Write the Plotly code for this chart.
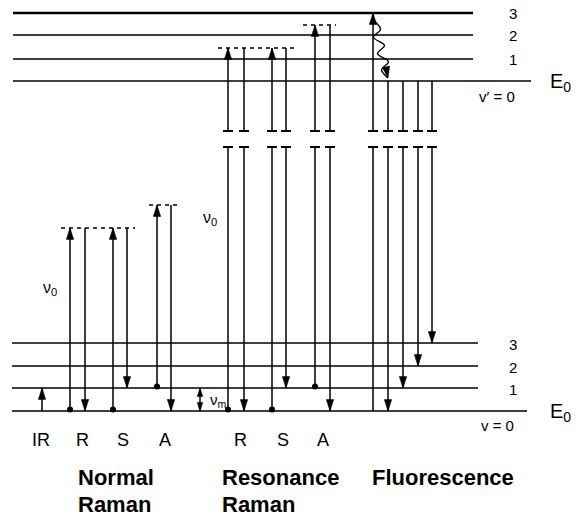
import plotly.graph_objects as go

# ---------------- data ----------------
# energy scale: ground-state v=0 at 0 (arbitrary units)
ground_labels = ["1", "2", "3"]
ground_E = [0, 23, 45, 68]
ground_x_end = [527, 478, 478, 478]
excited_labels = ["1", "2", "3"]
excited_E = [330, 352, 376, 398]
excited_x_end = [531, 473, 473, 473]
level_x_start = [12, 12, 12, 12]

# virtual levels (dashed)
virtual_E = [183, 206, 363, 386]
virtual_x0 = [61, 149, 218, 303]
virtual_x1 = [135, 179, 296, 336]

# transitions: column x, start energy, end energy, broken axis
trans_x = [42, 70, 85, 113, 127, 157, 171,
           228, 244, 272, 286, 315, 330,
           373, 388, 403, 418, 432]
trans_from = [0, 0, 183, 0, 183, 23, 206,
              0, 363, 0, 363, 23, 386,
              0, 330, 330, 330, 330]
trans_to = [23, 183, 0, 183, 23, 206, 0,
            363, 0, 363, 23, 386, 0,
            398, 0, 23, 45, 68]
trans_broken = [False] * 7 + [True] * 11
break_lo, break_hi = 264, 280

# population dots at start of absorption arrows
dot_x = [70, 113, 157, 228, 272, 315]
dot_E = [0, 0, 23, 0, 0, 23]

# vibrational relaxation (wavy) start/end
wavy_start = (374, 390)
wavy_end = (388, 333)

# nu_m marker column
num_x = 200

# transition labels
trans_labels = ["IR", "R", "S", "A", "R", "S", "A"]
trans_label_x = [41, 82, 123, 165, 240, 283, 323]
group_line1 = ["Normal", "Resonance", "Fluorescence"]
group_line2 = ["Raman", "Raman", ""]
group_x = [77, 221, 371]

# ---------------- figure ----------------
fig = go.Figure()
BLACK = "#000000"

# energy levels
for i, E in enumerate(ground_E):
    fig.add_trace(go.Scatter(x=[level_x_start[i], ground_x_end[i]], y=[E, E], mode="lines",
                             line=dict(color=BLACK, width=1.6), hoverinfo="skip", showlegend=False))
for i, E in enumerate(excited_E):
    fig.add_trace(go.Scatter(x=[level_x_start[i] + 1, excited_x_end[i]], y=[E, E], mode="lines",
                             line=dict(color=BLACK, width=2.4 if i == 3 else 1.6),
                             hoverinfo="skip", showlegend=False))

# virtual levels
for E, a, b in zip(virtual_E, virtual_x0, virtual_x1):
    fig.add_trace(go.Scatter(x=[a, b], y=[E, E], mode="lines",
                             line=dict(color=BLACK, width=1.4, dash="4px,4px"),
                             hoverinfo="skip", showlegend=False))

# transition lines
xs, ys = [], []
cx, cy = [], []
for x, e0, e1, br in zip(trans_x, trans_from, trans_to, trans_broken):
    lo, hi = min(e0, e1), max(e0, e1)
    if br and lo < break_lo and hi > break_hi:
        xs += [x, x, None, x, x, None]
        ys += [lo, break_lo, None, break_hi, hi, None]
        for yb in (break_lo, break_hi):
            cx += [x - 5, x + 5, None]
            cy += [yb, yb, None]
    else:
        xs += [x, x, None]
        ys += [lo, hi, None]
# nu_m double-headed marker line
xs += [num_x, num_x, None]
ys += [ground_E[0], ground_E[1], None]
fig.add_trace(go.Scatter(x=xs, y=ys, mode="lines", line=dict(color=BLACK, width=1.5),
                         hoverinfo="skip", showlegend=False))
fig.add_trace(go.Scatter(x=cx, y=cy, mode="lines", line=dict(color=BLACK, width=2),
                         hoverinfo="skip", showlegend=False))

# wavy relaxation line
n = 7
wx, wy = [], []
for k in range(n + 1):
    t = k / n
    off = 0 if k in (0, n) else (4.5 if k % 2 else -4.5)
    wx.append(wavy_start[0] + (wavy_end[0] - wavy_start[0]) * t + off)
    wy.append(wavy_start[1] + (wavy_end[1] - wavy_start[1]) * t)
fig.add_trace(go.Scatter(x=wx, y=wy, mode="lines", line=dict(color=BLACK, width=1.4, shape="spline"),
                         hoverinfo="skip", showlegend=False))

# arrowheads (tip of 'arrow' symbol sits on the point)
hx = list(trans_x) + [wavy_end[0]]
hy = list(trans_to) + [wavy_end[1]]
ha = [0 if e1 > e0 else 180 for e0, e1 in zip(trans_from, trans_to)] + [170]
fig.add_trace(go.Scatter(x=hx, y=hy, mode="markers",
                         marker=dict(symbol="arrow", size=12, angle=ha, color=BLACK,
                                     line=dict(width=0.5, color=BLACK)),
                         hoverinfo="skip", showlegend=False))
fig.add_trace(go.Scatter(x=[num_x, num_x], y=[ground_E[1], ground_E[0]], mode="markers",
                         marker=dict(symbol="arrow", size=9, angle=[0, 180], color=BLACK,
                                     line=dict(width=0.5, color=BLACK)),
                         hoverinfo="skip", showlegend=False))

# dots
fig.add_trace(go.Scatter(x=dot_x, y=[e + 1.5 for e in dot_E], mode="markers",
                         marker=dict(color=BLACK, size=6, symbol="circle"),
                         hoverinfo="skip", showlegend=False))

FONT = "Liberation Sans, Arial, sans-serif"

def txt(x, y, s, size, bold=False, xanchor="center"):
    fig.add_annotation(x=x, y=y, xref="x", yref="y", text=f"<b>{s}</b>" if bold else s,
                       showarrow=False, xanchor=xanchor, yanchor="middle", borderpad=0,
                       font=dict(family=FONT, size=size, color=BLACK))

# right-side level labels
for lab, E in zip(excited_labels, excited_E[1:]):
    txt(513, E, lab, 15)
for lab, E in zip(ground_labels, ground_E[1:]):
    txt(513, E - 1, lab, 15)
txt(497, excited_E[0] - 15, "v′ = 0", 15)
txt(497, ground_E[0] - 14, "v = 0", 15)
txt(560, excited_E[0] - 1, "E<sub>0</sub>", 20)
txt(560, ground_E[0] - 1, "E<sub>0</sub>", 20)

# nu labels
txt(50, 123, "ν<sub>0</sub>", 16)
txt(210, 193, "ν<sub>0</sub>", 16)
txt(218, 11, "ν<sub>m</sub>", 15)

# transition labels
for lab, x in zip(trans_labels, trans_label_x):
    txt(x, -29, lab, 18)

# group labels
for l1, l2, x in zip(group_line1, group_line2, group_x):
    txt(x, -66, l1, 22, bold=True, xanchor="left")
    if l2:
        txt(x, -93, l2, 22, bold=True, xanchor="left")

fig.update_layout(
    width=580, height=517,
    margin=dict(l=0, r=0, t=0, b=0),
    paper_bgcolor="white", plot_bgcolor="white",
    xaxis=dict(range=[0, 580], visible=False, fixedrange=True),
    yaxis=dict(range=[-106, 411], visible=False, fixedrange=True),
    showlegend=False,
)

# remove the default 8px page margin so the 580x517 figure fills the window exactly
fig.write_html("out.html", config={"displayModeBar": False},
               post_script="document.body.style.margin='0';")
